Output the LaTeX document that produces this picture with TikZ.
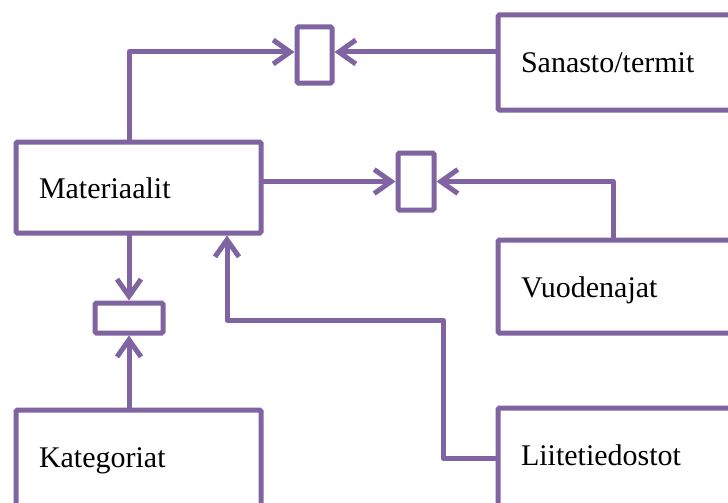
\documentclass[tikz,border=0pt]{standalone}
\usepackage{fontspec}
\setmainfont{Liberation Serif}
\usetikzlibrary{arrows.meta}
\definecolor{vio}{HTML}{8064A2}
\newcommand\bltext[2]{\raisebox{-#1pt}[0pt][0pt]{#2}}
\tikzset{
  box/.style={draw=vio, line width=5pt, rounded corners=1.5pt, fill=white,
    inner xsep=23pt, inner ysep=0pt, align=left, font=\fontsize{30}{34}\selectfont, anchor=north west},
  smallbox/.style={draw=vio, line width=5pt, rounded corners=1.5pt, inner sep=0pt, anchor=north west},
  arr/.style={draw=vio, line width=5pt, line cap=round, line join=round,
    -{Straight Barb[length=17pt,width=24pt,line width=5pt]}},
}
\begin{document}
\begin{tikzpicture}[x=1pt,y=-1pt]
\useasboundingbox (0,0) rectangle (728,503);
\clip (0,0) rectangle (728,503);
% big boxes
\node[box, text width=199pt, minimum height=91pt] (mat) at (13.5,139.5) {\bltext{10.5}{Materiaalit}};
\node[box, text width=216pt, minimum height=95pt] (san) at (495.5,12.5) {\bltext{9.5}{Sanasto/termit}};
\node[box, text width=216pt, minimum height=93pt] (vuo) at (495.5,237.5) {\bltext{10.5}{Vuodenajat}};
\node[box, text width=199pt, minimum height=98pt] (kat) at (13.5,407.5) {\bltext{8}{Kategoriat}};
\node[box, text width=216pt, minimum height=100pt] (lii) at (495.5,405.5) {\bltext{7}{Liitetiedostot}};
% small boxes
\node[smallbox, minimum width=35pt, minimum height=56pt] (s1) at (294.5,24.5) {};
\node[smallbox, minimum width=36pt, minimum height=57pt] (s2) at (395.5,150.5) {};
\node[smallbox, minimum width=68pt, minimum height=30pt] (s3) at (92.5,300.5) {};
% helper coordinates
\coordinate (vuoup) at ([xshift=117.5pt]vuo.north west);
\coordinate (liicorner) at (443,320);
\coordinate (matin) at ([xshift=213.5pt]mat.south west);
% connectors
\draw[arr] (mat.north -| s3.north) |- ([yshift=3pt]s1.west);
\draw[arr] ([yshift=3pt]s1.east -| san.west) -- ([yshift=3pt]s1.east);
\draw[arr] (mat.east |- s2.west) -- (s2.west);
\draw[arr] (vuoup) |- (s2.east);
\draw[arr] (mat.south -| s3.north) -- (s3.north);
\draw[arr] (kat.north -| s3.south) -- (s3.south);
\draw[arr] (lii.west) -| (liicorner) -| (matin);
\end{tikzpicture}
\end{document}
